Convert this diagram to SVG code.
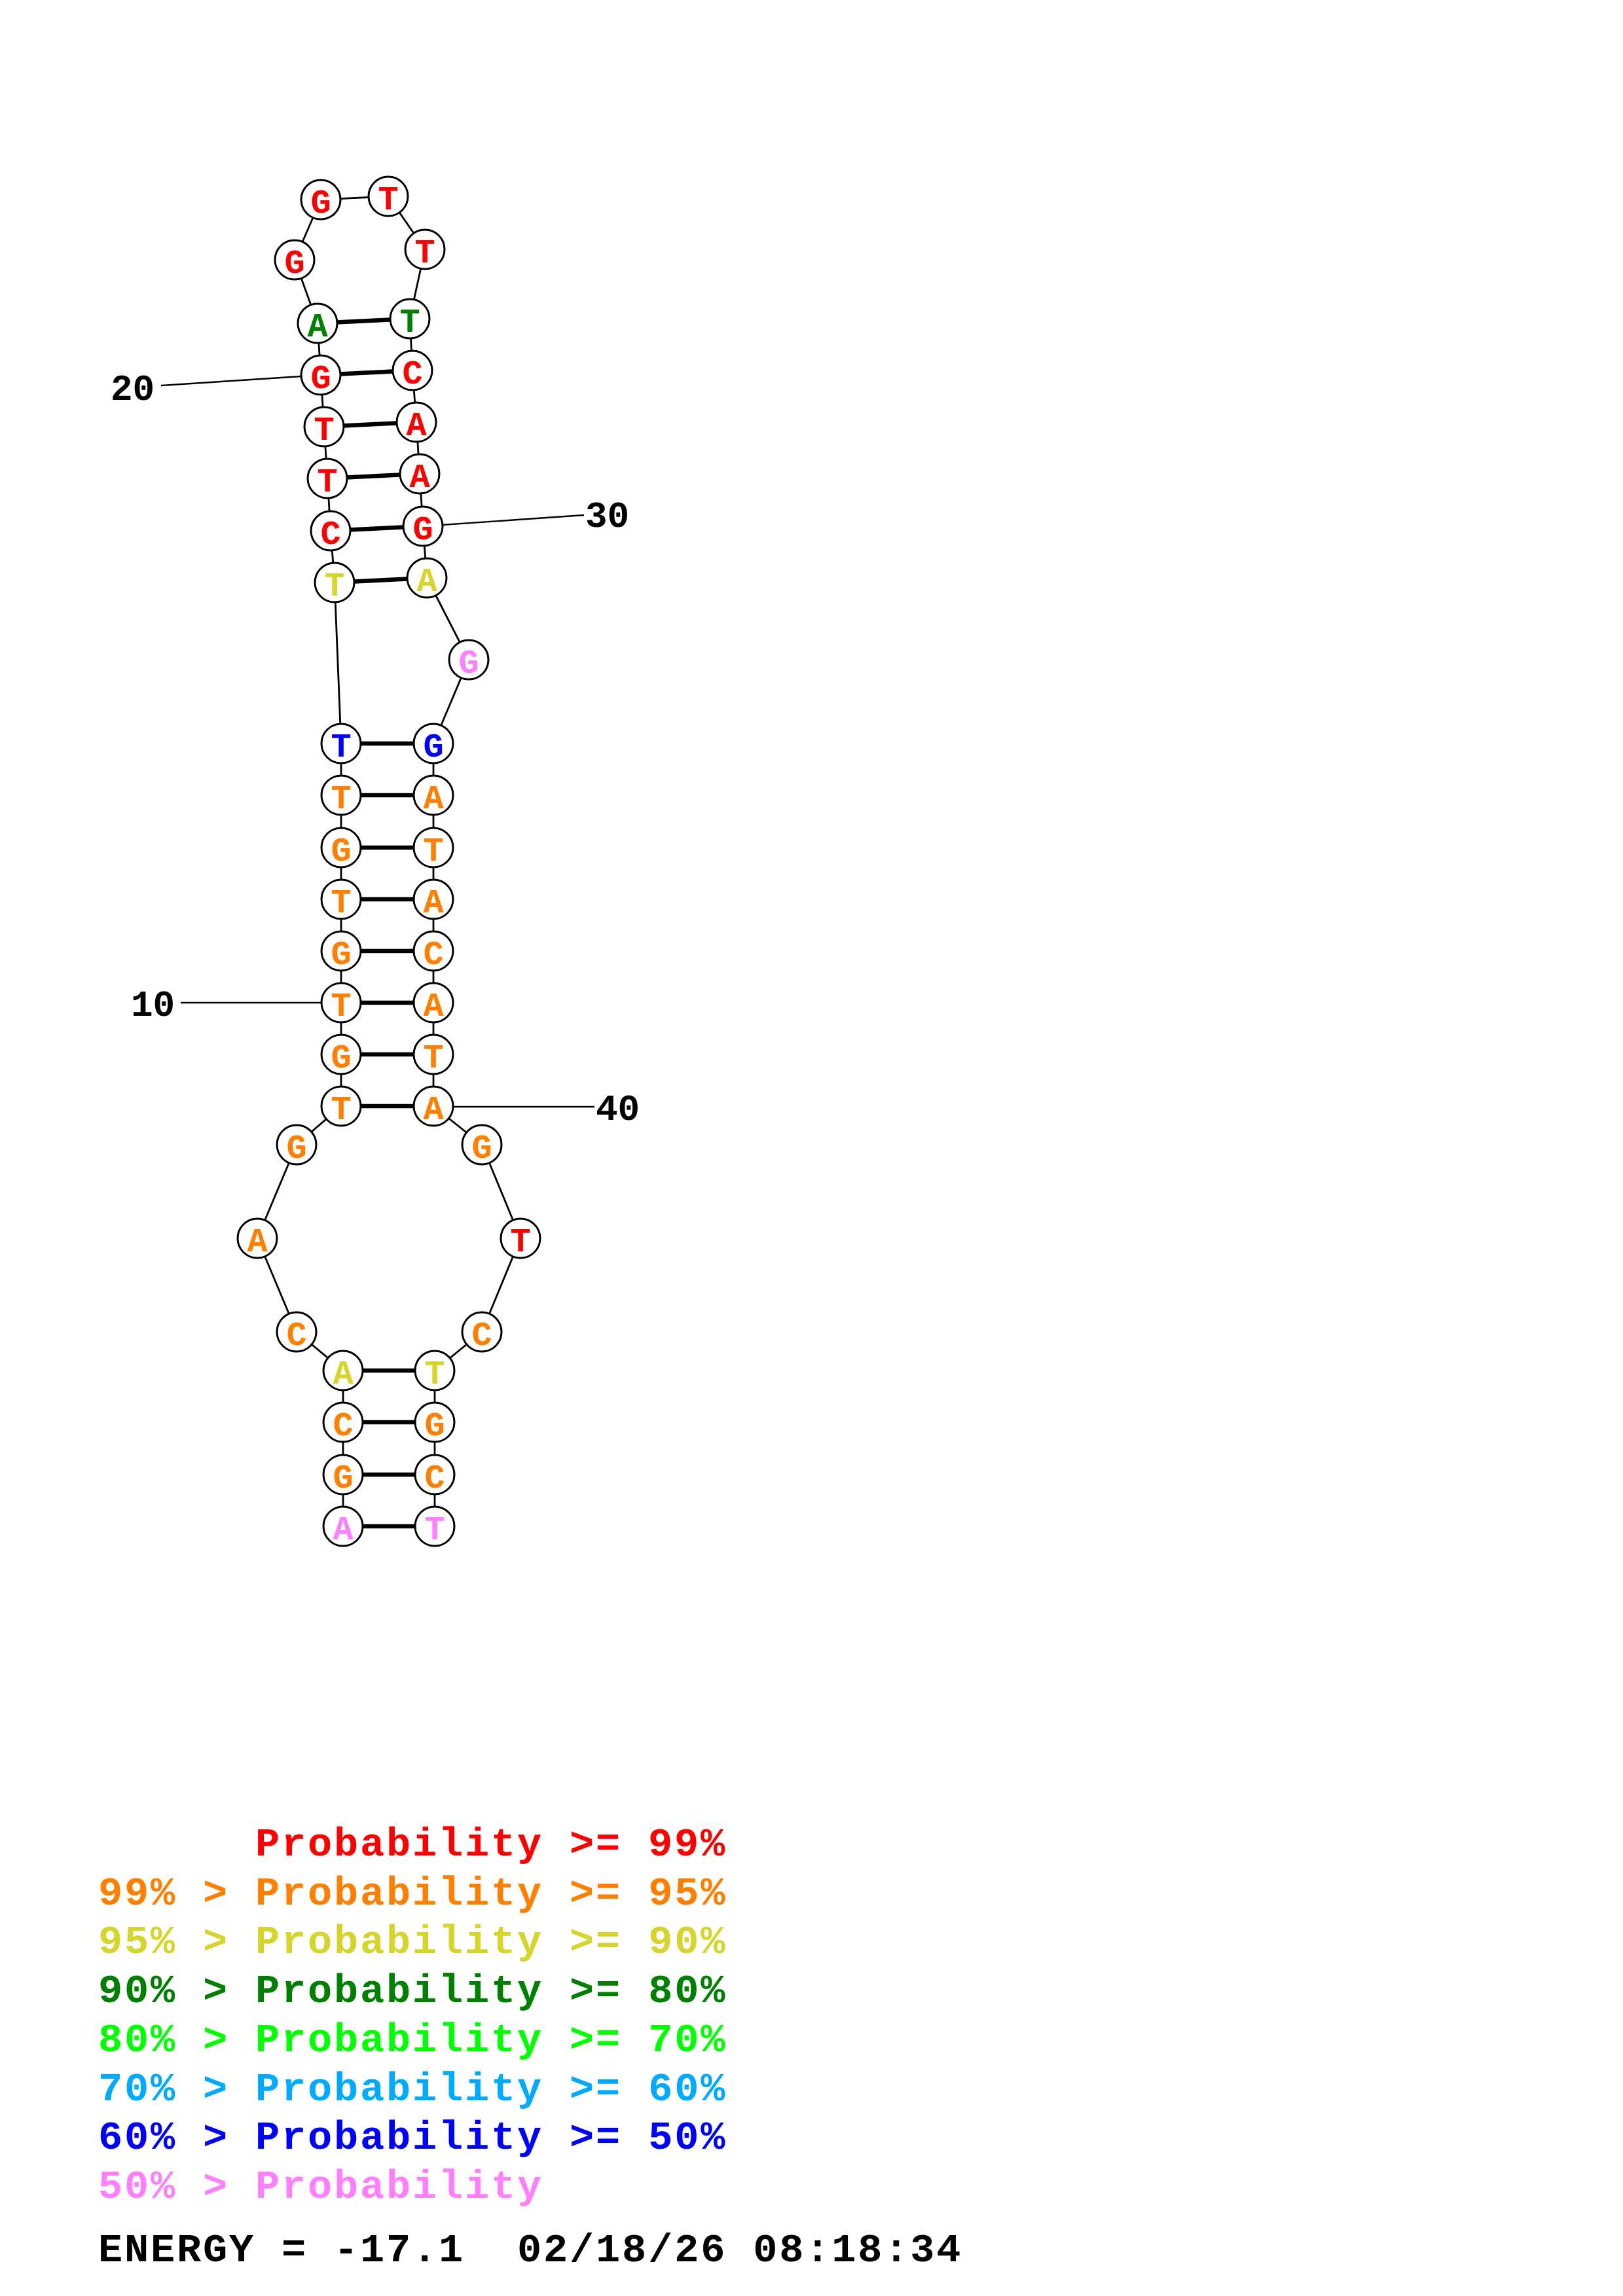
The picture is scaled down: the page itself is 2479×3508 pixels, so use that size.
<svg xmlns="http://www.w3.org/2000/svg" width="2479" height="3508" viewBox="0 0 2479 3508">
<style>
.bb{stroke:#000;stroke-width:2.8;fill:none}
.bp{stroke:#000;stroke-width:6.5;fill:none}
.tk{stroke:#000;stroke-width:2.4;fill:none}
circle{fill:#fff;stroke:#000;stroke-width:3}
text{font-family:"Liberation Mono","DejaVu Sans Mono",monospace;font-weight:bold}
.nt{font-size:52px;text-anchor:middle}
.lb{font-size:56px;fill:#000}
.lg{font-size:62px;letter-spacing:2.8px;white-space:pre}
.r{fill:#FF0000}.o{fill:#FF8000}.y{fill:#D5D52B}.dg{fill:#008000}.g{fill:#00FF00}.lbl{fill:#00AAFF}.b{fill:#0000FF}.p{fill:#FF80FF}.k{fill:#000}
</style>
<rect width="2479" height="3508" fill="#fff"/>
<g id="connectors">
<polyline class="bb" points="524,2332 524,2253 524,2173 524,2094 453,2035 393,1892 453,1749 521,1690 521,1611 521,1532 521,1453 521,1374 521,1295 521,1215 521,1136 511,890 505,811 500,731 495,652 490,573 485,494 450,397 490,305 593,300 649,381 626,487 630,566 636,645 641,724 646,804 652,883 716,1008 662,1136 662,1215 662,1295 662,1374 662,1453 662,1532 662,1611 662,1690 736,1749 795,1892 736,2035 664,2094 664,2173 664,2253 664,2332"/>
<line class="bp" x1="524" y1="2332" x2="664" y2="2332"/>
<line class="bp" x1="524" y1="2253" x2="664" y2="2253"/>
<line class="bp" x1="524" y1="2173" x2="664" y2="2173"/>
<line class="bp" x1="524" y1="2094" x2="664" y2="2094"/>
<line class="bp" x1="521" y1="1690" x2="662" y2="1690"/>
<line class="bp" x1="521" y1="1611" x2="662" y2="1611"/>
<line class="bp" x1="521" y1="1532" x2="662" y2="1532"/>
<line class="bp" x1="521" y1="1453" x2="662" y2="1453"/>
<line class="bp" x1="521" y1="1374" x2="662" y2="1374"/>
<line class="bp" x1="521" y1="1295" x2="662" y2="1295"/>
<line class="bp" x1="521" y1="1215" x2="662" y2="1215"/>
<line class="bp" x1="521" y1="1136" x2="662" y2="1136"/>
<line class="bp" x1="511" y1="890" x2="652" y2="883"/>
<line class="bp" x1="505" y1="811" x2="646" y2="804"/>
<line class="bp" x1="500" y1="731" x2="641" y2="724"/>
<line class="bp" x1="495" y1="652" x2="636" y2="645"/>
<line class="bp" x1="490" y1="573" x2="630" y2="566"/>
<line class="bp" x1="485" y1="494" x2="626" y2="487"/>
<line class="tk" x1="276" y1="1532" x2="521" y2="1532"/>
<line class="tk" x1="246" y1="589" x2="490" y2="573"/>
<line class="tk" x1="646" y1="804" x2="892" y2="787"/>
<line class="tk" x1="662" y1="1691" x2="908" y2="1691"/>
</g>
<g id="n1"><circle cx="524" cy="2332" r="30"/><text class="nt p" x="524" y="2352">A</text></g>
<g id="n2"><circle cx="524" cy="2253" r="30"/><text class="nt o" x="524" y="2273">G</text></g>
<g id="n3"><circle cx="524" cy="2173" r="30"/><text class="nt o" x="524" y="2193">C</text></g>
<g id="n4"><circle cx="524" cy="2094" r="30"/><text class="nt y" x="524" y="2114">A</text></g>
<g id="n5"><circle cx="453" cy="2035" r="30"/><text class="nt o" x="453" y="2055">C</text></g>
<g id="n6"><circle cx="393" cy="1892" r="30"/><text class="nt o" x="393" y="1912">A</text></g>
<g id="n7"><circle cx="453" cy="1749" r="30"/><text class="nt o" x="453" y="1769">G</text></g>
<g id="n8"><circle cx="521" cy="1690" r="30"/><text class="nt o" x="521" y="1710">T</text></g>
<g id="n9"><circle cx="521" cy="1611" r="30"/><text class="nt o" x="521" y="1631">G</text></g>
<g id="n10"><circle cx="521" cy="1532" r="30"/><text class="nt o" x="521" y="1552">T</text></g>
<g id="n11"><circle cx="521" cy="1453" r="30"/><text class="nt o" x="521" y="1473">G</text></g>
<g id="n12"><circle cx="521" cy="1374" r="30"/><text class="nt o" x="521" y="1394">T</text></g>
<g id="n13"><circle cx="521" cy="1295" r="30"/><text class="nt o" x="521" y="1315">G</text></g>
<g id="n14"><circle cx="521" cy="1215" r="30"/><text class="nt o" x="521" y="1235">T</text></g>
<g id="n15"><circle cx="521" cy="1136" r="30"/><text class="nt b" x="521" y="1156">T</text></g>
<g id="n16"><circle cx="511" cy="890" r="30"/><text class="nt y" x="511" y="910">T</text></g>
<g id="n17"><circle cx="505" cy="811" r="30"/><text class="nt r" x="505" y="831">C</text></g>
<g id="n18"><circle cx="500" cy="731" r="30"/><text class="nt r" x="500" y="751">T</text></g>
<g id="n19"><circle cx="495" cy="652" r="30"/><text class="nt r" x="495" y="672">T</text></g>
<g id="n20"><circle cx="490" cy="573" r="30"/><text class="nt r" x="490" y="593">G</text></g>
<g id="n21"><circle cx="485" cy="494" r="30"/><text class="nt dg" x="485" y="514">A</text></g>
<g id="n22"><circle cx="450" cy="397" r="30"/><text class="nt r" x="450" y="417">G</text></g>
<g id="n23"><circle cx="490" cy="305" r="30"/><text class="nt r" x="490" y="325">G</text></g>
<g id="n24"><circle cx="593" cy="300" r="30"/><text class="nt r" x="593" y="320">T</text></g>
<g id="n25"><circle cx="649" cy="381" r="30"/><text class="nt r" x="649" y="401">T</text></g>
<g id="n26"><circle cx="626" cy="487" r="30"/><text class="nt dg" x="626" y="507">T</text></g>
<g id="n27"><circle cx="630" cy="566" r="30"/><text class="nt r" x="630" y="586">C</text></g>
<g id="n28"><circle cx="636" cy="645" r="30"/><text class="nt r" x="636" y="665">A</text></g>
<g id="n29"><circle cx="641" cy="724" r="30"/><text class="nt r" x="641" y="744">A</text></g>
<g id="n30"><circle cx="646" cy="804" r="30"/><text class="nt r" x="646" y="824">G</text></g>
<g id="n31"><circle cx="652" cy="883" r="30"/><text class="nt y" x="652" y="903">A</text></g>
<g id="n32"><circle cx="716" cy="1008" r="30"/><text class="nt p" x="716" y="1028">G</text></g>
<g id="n33"><circle cx="662" cy="1136" r="30"/><text class="nt b" x="662" y="1156">G</text></g>
<g id="n34"><circle cx="662" cy="1215" r="30"/><text class="nt o" x="662" y="1235">A</text></g>
<g id="n35"><circle cx="662" cy="1295" r="30"/><text class="nt o" x="662" y="1315">T</text></g>
<g id="n36"><circle cx="662" cy="1374" r="30"/><text class="nt o" x="662" y="1394">A</text></g>
<g id="n37"><circle cx="662" cy="1453" r="30"/><text class="nt o" x="662" y="1473">C</text></g>
<g id="n38"><circle cx="662" cy="1532" r="30"/><text class="nt o" x="662" y="1552">A</text></g>
<g id="n39"><circle cx="662" cy="1611" r="30"/><text class="nt o" x="662" y="1631">T</text></g>
<g id="n40"><circle cx="662" cy="1690" r="30"/><text class="nt o" x="662" y="1710">A</text></g>
<g id="n41"><circle cx="736" cy="1749" r="30"/><text class="nt o" x="736" y="1769">G</text></g>
<g id="n42"><circle cx="795" cy="1892" r="30"/><text class="nt r" x="795" y="1912">T</text></g>
<g id="n43"><circle cx="736" cy="2035" r="30"/><text class="nt o" x="736" y="2055">C</text></g>
<g id="n44"><circle cx="664" cy="2094" r="30"/><text class="nt y" x="664" y="2114">T</text></g>
<g id="n45"><circle cx="664" cy="2173" r="30"/><text class="nt o" x="664" y="2193">G</text></g>
<g id="n46"><circle cx="664" cy="2253" r="30"/><text class="nt o" x="664" y="2273">C</text></g>
<g id="n47"><circle cx="664" cy="2332" r="30"/><text class="nt p" x="664" y="2352">T</text></g>
<g id="labels">
<text class="lb" x="200" y="1552">10</text>
<text class="lb" x="169" y="611">20</text>
<text class="lb" x="894" y="805">30</text>
<text class="lb" x="910" y="1711">40</text>
</g>
<g id="legend">
<text class="lg r" x="390" y="2835">Probability &gt;= 99%</text>
<text class="lg o" x="150" y="2910">99% &gt; Probability &gt;= 95%</text>
<text class="lg y" x="150" y="2984">95% &gt; Probability &gt;= 90%</text>
<text class="lg dg" x="150" y="3059">90% &gt; Probability &gt;= 80%</text>
<text class="lg g" x="150" y="3134">80% &gt; Probability &gt;= 70%</text>
<text class="lg lbl" x="150" y="3209">70% &gt; Probability &gt;= 60%</text>
<text class="lg b" x="150" y="3283">60% &gt; Probability &gt;= 50%</text>
<text class="lg p" x="150" y="3358">50% &gt; Probability</text>
<text class="lg k" x="150" y="3455">ENERGY = -17.1  02/18/26 08:18:34</text>
</g>
</svg>
